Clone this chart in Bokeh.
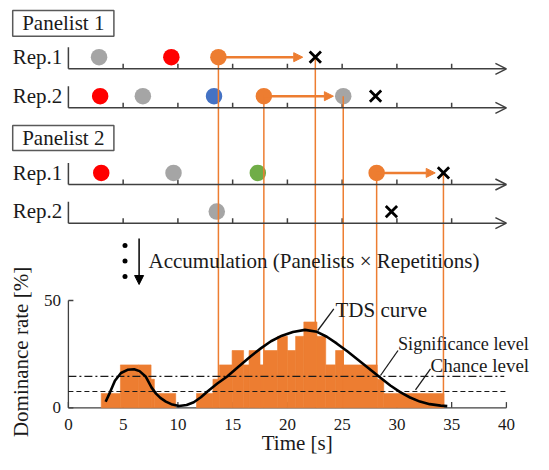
import numpy as np
from bokeh.plotting import figure
from bokeh.models import Range1d, ColumnDataSource, Arrow, OpenHead, NormalHead
from bokeh.core.properties import value
from bokeh.embed import file_html
from bokeh.resources import INLINE

# ---------------- data ----------------
row_labels = ["Rep.1", "Rep.2", "Rep.1", "Rep.2"]
panelist_labels = ["Panelist 1", "Panelist 2"]

# attribute selections in each session (row index, time [s], attribute)
event_row = [0, 0, 0, 1, 1, 1, 1, 1, 2, 2, 2, 2, 3]
event_time = [2.8, 9.4, 13.7, 2.9, 6.8, 13.3, 17.85, 25.1, 3.0, 9.6, 17.3, 28.15, 13.55]
event_attr = ["grey", "red", "orange", "red", "grey", "blue", "orange", "grey",
              "red", "grey", "green", "orange", "grey"]

# end of evaluation in each session
stop_row = [0, 1, 2, 3]
stop_time = [22.55, 28.05, 34.25, 29.5]

# dominance periods of the target (orange) attribute
dom_row = [0, 1, 2]
dom_start = [13.7, 17.85, 28.15]
dom_arrow_end = [21.4, 24.2, 33.5]
dom_end = [22.55, 25.1, 34.25]

time_ticks = [0, 5, 10, 15, 20, 25, 30, 35, 40]
rate_ticks = [0, 50]

# dominance rate histogram [%]
bar_start = [3.0, 4.75, 6.4, 7.55, 7.85, 11.7, 13.2, 13.8, 14.95, 16.0, 16.5, 17.5,
             17.85, 19.1, 20.0, 20.75, 21.5, 22.7, 23.5, 24.4, 25.1, 28.2, 28.8]
bar_end = [4.75, 6.4, 7.55, 7.85, 9.8, 13.2, 13.8, 14.95, 16.0, 16.5, 17.5, 17.85,
           19.1, 20.0, 20.75, 21.5, 22.7, 23.5, 24.4, 25.1, 28.2, 28.8, 34.3]
bar_rate = [6.7, 20.0, 20.0, 13.3, 6.7, 6.7, 13.3, 20.0, 26.7, 20.0, 26.7, 20.0,
            26.7, 33.3, 26.7, 33.3, 40.0, 33.3, 20.0, 26.7, 20.0, 13.3, 6.7]

# smoothed TDS curve
tds_time = [3.4, 3.8, 4.25, 4.8, 5.4, 6.0, 6.5, 7.05, 7.6, 8.0, 8.4, 8.9, 9.4, 10.1,
            10.8, 11.45, 12.1, 12.7, 13.6, 14.5, 15.5, 16.6, 17.6, 18.5, 19.5, 20.5,
            21.6, 22.7, 23.6, 24.5, 25.5, 26.5, 27.5, 28.5, 29.4, 30.3, 31.2, 32.1,
            33.0, 34.0, 34.6]
tds_rate = [2.8, 7.2, 12.6, 16.2, 17.7, 18.0, 17.1, 14.6, 9.4, 6.6, 4.6, 2.9, 1.7, 0.8,
            1.3, 2.6, 4.9, 7.6, 11.3, 14.6, 19.0, 23.8, 27.8, 31.0, 33.6, 35.3,
            36.3, 35.4, 33.1, 30.0, 26.2, 22.2, 18.1, 14.0, 10.4, 7.3, 4.8, 2.9,
            1.7, 1.0, 0.8]

significance_level = 14.6
chance_level = 7.6

# ---------------- layout / style ----------------
W, H = 533, 454
X0, SX = 67.9, 10.95      # px of t = 0, px per second
Y0, SY = 407.3, 2.146     # px of 0 %, px per %
ROW_Y = [68.3, 107.3, 184.0, 222.7]
MARK_DY = 11.6
BOX_X = (12.2, 113.4)
BOX_Y = [(10.0, 35.7), (125.0, 150.0)]
FONT = value("Liberation Serif")
FS = "21px"
INK = "#1a1a1a"
AXIS = "#404040"
ORANGE = "#ED7D31"
COLORS = {"grey": "#A5A5A5", "red": "#FF0000", "blue": "#4472C4",
          "green": "#70AD47", "orange": ORANGE}

p = figure(width=W, height=H,
           x_range=Range1d((0 - X0) / SX, (W - X0) / SX),
           y_range=Range1d((Y0 - H) / SY, Y0 / SY),
           output_backend="svg", toolbar_location=None,
           x_axis_type=None, y_axis_type=None, min_border=0,
           outline_line_color=None, background_fill_color="white",
           border_fill_color="white")
p.extra_x_ranges = {"px": Range1d(0, W)}
p.extra_y_ranges = {"px": Range1d(H, 0)}


def txt(x, y, s, size=FS, align="left", angle=0.0, xr="px", yr="px"):
    kw = {}
    if xr:
        kw["x_range_name"] = xr
    if yr:
        kw["y_range_name"] = yr
    p.text(x=x, y=y, text=s, text_font=FONT, text_font_size=size,
           text_align=align, text_baseline="middle", text_color=INK,
           angle=angle, **kw)


# ---- panel boxes and row labels ----
p.quad(left=[BOX_X[0]] * 2, right=[BOX_X[1]] * 2,
       bottom=[b[1] for b in BOX_Y], top=[b[0] for b in BOX_Y],
       fill_color=None, line_color="#595959", line_width=1.5,
       x_range_name="px", y_range_name="px")
txt([(BOX_X[0] + BOX_X[1]) / 2] * 2, [(b[0] + b[1]) / 2 for b in BOX_Y],
    panelist_labels, align="center")
txt([12.2] * 4, [y - 12.0 for y in ROW_Y], row_labels)

# ---- timeline axes ----
axis_src = ColumnDataSource(dict(x0=[time_ticks[0]] * 4, x1=[time_ticks[-1]] * 4, y=ROW_Y))
p.add_layout(Arrow(end=OpenHead(size=11, line_width=1.5, line_color=AXIS),
                   x_start="x0", x_end="x1", y_start="y", y_end="y", source=axis_src,
                   line_color=AXIS, line_width=1.5, y_range_name="px"))
tk_x, tk_y0, tk_y1 = [], [], []
for y in ROW_Y:
    for t in time_ticks[1:-1]:
        tk_x.append(t); tk_y0.append(y); tk_y1.append(y - 5)
p.segment(x0=tk_x, y0=tk_y0, x1=tk_x, y1=tk_y1, line_color=AXIS, line_width=1.5,
          y_range_name="px")
p.segment(x0=[time_ticks[0]] * 4, y0=ROW_Y, x1=[time_ticks[0]] * 4,
          y1=[y - 21.5 for y in ROW_Y], line_color=AXIS, line_width=1.5,
          y_range_name="px")

# ---- attribute selections ----
p.scatter(x=event_time, y=[ROW_Y[r] - MARK_DY for r in event_row],
          size=16.5, fill_color=[COLORS[a] for a in event_attr], line_color=None,
          y_range_name="px")

# ---- vertical guide lines from dominance start/end to the histogram ----
v_t = dom_start + dom_end
v_y = [ROW_Y[r] - MARK_DY for r in dom_row] * 2
p.segment(x0=v_t, y0=v_y, x1=v_t, y1=[Y0] * len(v_t), line_color=ORANGE,
          line_width=1.5, y_range_name="px")

# ---- dominance arrows ----
dom_src = ColumnDataSource(dict(x0=dom_start, x1=dom_arrow_end,
                                y=[ROW_Y[r] - MARK_DY for r in dom_row]))
p.add_layout(Arrow(end=NormalHead(size=9, fill_color=ORANGE, line_color=ORANGE),
                   x_start="x0", x_end="x1", y_start="y", y_end="y", source=dom_src,
                   line_color=ORANGE, line_width=2.5, y_range_name="px"))

# ---- stop marks ----
p.scatter(x=stop_time, y=[ROW_Y[r] - MARK_DY for r in stop_row], marker="x",
          size=16, line_color="black", line_width=2.8, y_range_name="px")

# ---- accumulation ----
p.scatter(x=[124.5] * 3, y=[245.0, 260.5, 276.0], size=5, fill_color="black",
          line_color=None, x_range_name="px", y_range_name="px")
p.add_layout(Arrow(end=NormalHead(size=9, fill_color="black", line_color="black"),
                   x_start=138.6, y_start=238, x_end=138.6, y_end=284,
                   line_color="black", line_width=1.5,
                   x_range_name="px", y_range_name="px"))
txt([148.0], [260.0], ["Accumulation (Panelists \u00d7 Repetitions)"])

# ---- chart axes ----
p.segment(x0=[time_ticks[0]], y0=[0], x1=[time_ticks[-1]], y1=[0],
          line_color=AXIS, line_width=1.3)
p.segment(x0=time_ticks, y0=[0] * len(time_ticks), x1=time_ticks,
          y1=[5.7 / SY] * len(time_ticks), line_color=AXIS, line_width=1.3)
p.segment(x0=[0], y0=[rate_ticks[0]], x1=[0], y1=[rate_ticks[-1]],
          line_color=AXIS, line_width=1.3)
p.segment(x0=[0] * len(rate_ticks), y0=rate_ticks, x1=[5 / SX] * len(rate_ticks),
          y1=rate_ticks, line_color=AXIS, line_width=1.3)
txt(time_ticks, [424.3] * len(time_ticks), [str(t) for t in time_ticks],
    size="17px", align="center", xr=None)
txt([60.5] * len(rate_ticks), rate_ticks, [str(r) for r in rate_ticks],
    size="17px", align="right", yr=None)
txt([296.7], [442.0], ["Time [s]"], align="center")
txt([20.0], [351.5], ["Dominance rate [%]"], align="center", angle=np.pi / 2)

# ---- histogram, levels, curve ----
p.quad(left=bar_start, right=bar_end, bottom=[0] * len(bar_start), top=bar_rate,
       fill_color=ORANGE, line_color=ORANGE, line_width=0.6)
p.segment(x0=[0], y0=[significance_level], x1=[39.8], y1=[significance_level],
          line_color=INK, line_width=1.2, line_dash="8 3 2 3")
p.segment(x0=[0], y0=[chance_level], x1=[time_ticks[-1]], y1=[chance_level],
          line_color=INK, line_width=1.2, line_dash="5 3")
p.line(tds_time, tds_rate, line_color="black", line_width=2.6)

# ---- curve annotations ----
p.segment(x0=[333.3, 397.5, 430.0], y0=[308.3, 350.0, 368.3],
          x1=[317.3, 380.0, 415.0], y1=[330.0, 375.0, 389.3],
          line_color=INK, line_width=1.3, x_range_name="px", y_range_name="px")
txt([335.0], [309.8], ["TDS curve"])
txt([397.5], [343.1], ["Significance level"], size="18.2px")
txt([430.0], [365.3], ["Chance level"], size="19px")

open("out.html", "w").write(file_html(p, INLINE))
